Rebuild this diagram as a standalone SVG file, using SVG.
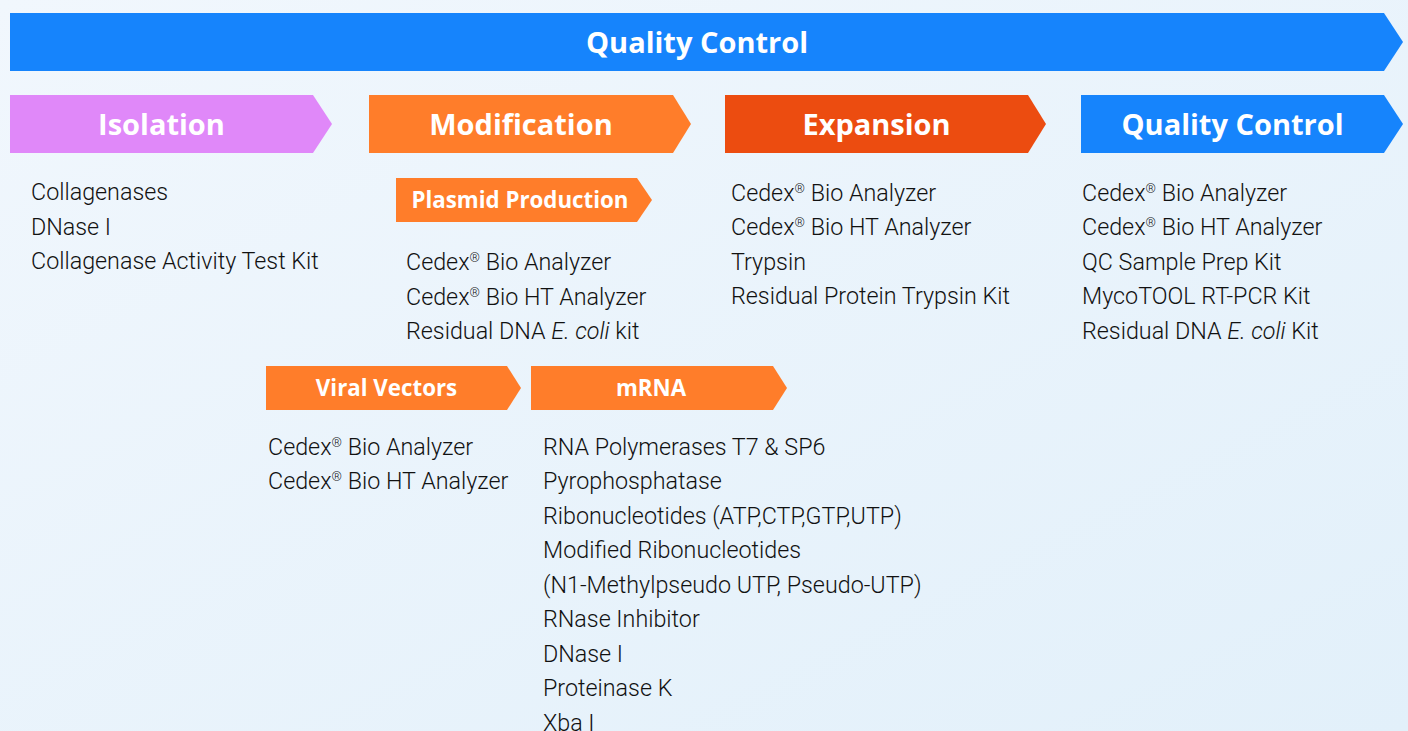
<svg xmlns="http://www.w3.org/2000/svg" width="1408" height="731" viewBox="0 0 1408 731">
<defs>
<linearGradient id="bg" x1="0" y1="0" x2="1" y2="1">
<stop offset="0" stop-color="#F1F7FD"/>
<stop offset="1" stop-color="#E2F0FA"/>
</linearGradient>
</defs>
<style>
.hd{font-family:"Open Sans","Liberation Sans",sans-serif;font-weight:700;fill:#fff;text-anchor:middle}
.h1{font-size:29px}
.h2{font-size:22.3px}
.tx{font-family:Roboto,"Liberation Sans",sans-serif;font-size:23.3px;font-weight:300;fill:#111}
.blue{fill:#1684FC}
.pink{fill:#E088F9}
.orange{fill:#FF7D2A}
.red{fill:#EC4C10}
.it{font-style:italic}
</style>
<rect width="1408" height="731" fill="url(#bg)"/>

<g id="qc-banner">
<polygon class="blue" points="10,13 1384,13 1403,42 1384,71 10,71"/>
<text class="hd h1" x="697" y="53">Quality Control</text>
</g>

<g id="isolation">
<polygon class="pink" points="10,95 313,95 332,124 313,153 10,153"/>
<text class="hd h1" x="161.5" y="135">Isolation</text>
<text class="tx" x="31" y="200">Collagenases</text>
<text class="tx" x="31" y="234.5">DNase I</text>
<text class="tx" x="31" y="269">Collagenase Activity Test Kit</text>
</g>

<g id="modification">
<polygon class="orange" points="369,95 673,95 691,124 673,153 369,153"/>
<text class="hd h1" x="521" y="135">Modification</text>
</g>

<g id="plasmid-production">
<polygon class="orange" points="396,178 637,178 652,200 637,222 396,222"/>
<text class="hd h2" x="520" y="208">Plasmid Production</text>
<text class="tx" x="406" y="270">Cedex<tspan font-size="13" dy="-8">®</tspan><tspan dy="8"> Bio Analyzer</tspan></text>
<text class="tx" x="406" y="304.5">Cedex<tspan font-size="13" dy="-8">®</tspan><tspan dy="8"> Bio HT Analyzer</tspan></text>
<text class="tx" x="406" y="339">Residual DNA <tspan class="it">E. coli</tspan> kit</text>
</g>

<g id="viral-vectors">
<polygon class="orange" points="266,366 507,366 521,388 507,410 266,410"/>
<text class="hd h2" x="386.5" y="396">Viral Vectors</text>
<text class="tx" x="268" y="454.5">Cedex<tspan font-size="13" dy="-8">®</tspan><tspan dy="8"> Bio Analyzer</tspan></text>
<text class="tx" x="268" y="489">Cedex<tspan font-size="13" dy="-8">®</tspan><tspan dy="8"> Bio HT Analyzer</tspan></text>
</g>

<g id="mrna">
<polygon class="orange" points="531,366 773,366 787,388 773,410 531,410"/>
<text class="hd h2" x="651" y="396">mRNA</text>
<text class="tx" x="543" y="454.5">RNA Polymerases T7 &amp; SP6</text>
<text class="tx" x="543" y="489">Pyrophosphatase</text>
<text class="tx" x="543" y="523.5">Ribonucleotides (ATP,CTP,GTP,UTP)</text>
<text class="tx" x="543" y="558">Modified Ribonucleotides</text>
<text class="tx" x="543" y="592.6">(N1-Methylpseudo UTP, Pseudo-UTP)</text>
<text class="tx" x="543" y="627.2">RNase Inhibitor</text>
<text class="tx" x="543" y="661.8">DNase I</text>
<text class="tx" x="543" y="696.4">Proteinase K</text>
<text class="tx" x="543" y="730.5">Xba I</text>
</g>

<g id="expansion">
<polygon class="red" points="725,95 1028,95 1046,124 1028,153 725,153"/>
<text class="hd h1" x="876.5" y="135">Expansion</text>
<text class="tx" x="731" y="200.5">Cedex<tspan font-size="13" dy="-8">®</tspan><tspan dy="8"> Bio Analyzer</tspan></text>
<text class="tx" x="731" y="235">Cedex<tspan font-size="13" dy="-8">®</tspan><tspan dy="8"> Bio HT Analyzer</tspan></text>
<text class="tx" x="731" y="269.5">Trypsin</text>
<text class="tx" x="731" y="304">Residual Protein Trypsin Kit</text>
</g>

<g id="quality-control">
<polygon class="blue" points="1081,95 1384,95 1403,124 1384,153 1081,153"/>
<text class="hd h1" x="1232.5" y="135">Quality Control</text>
<text class="tx" x="1082" y="200.5">Cedex<tspan font-size="13" dy="-8">®</tspan><tspan dy="8"> Bio Analyzer</tspan></text>
<text class="tx" x="1082" y="235">Cedex<tspan font-size="13" dy="-8">®</tspan><tspan dy="8"> Bio HT Analyzer</tspan></text>
<text class="tx" x="1082" y="269.5">QC Sample Prep Kit</text>
<text class="tx" x="1082" y="304">MycoTOOL RT-PCR Kit</text>
<text class="tx" x="1082" y="338.5">Residual DNA <tspan class="it">E. coli</tspan> Kit</text>
</g>
</svg>
